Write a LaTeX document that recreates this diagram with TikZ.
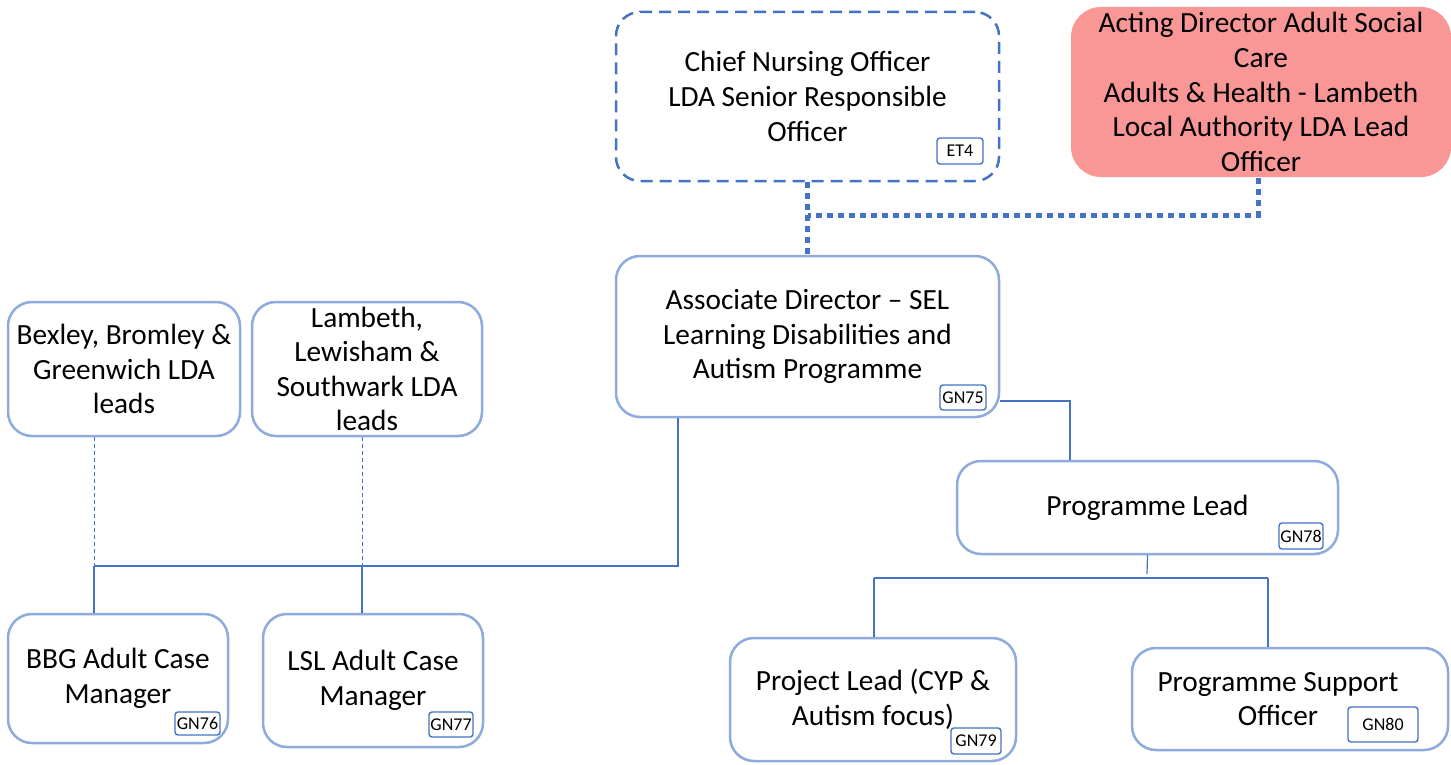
\documentclass[tikz,border=0pt]{standalone}
\usepackage{fontspec}
\setmainfont{Carlito}
\definecolor{boxline}{HTML}{8FAADC}
\definecolor{conn}{HTML}{4472C4}
\definecolor{pinkfill}{HTML}{F99797}
\begin{document}
\begin{tikzpicture}[x=1pt,y=-1pt,
  box/.style={draw=boxline, line width=2.5pt, rounded corners=24pt, align=center, inner sep=0pt,
    font=\fontsize{29.3}{34.6}\selectfont},
  tag/.style={draw=conn, line width=1.4pt, rounded corners=3pt, inner sep=0pt, font=\fontsize{18}{20}\selectfont},
  link/.style={draw=conn, line width=1.2pt},
  thickdot/.style={draw=conn, line width=5pt, dash pattern=on 6pt off 5pt}
]
\useasboundingbox (0,0) rectangle (1451,765);

% nodes
\node[box, draw=conn, dash pattern=on 12pt off 7pt, minimum width=383pt, minimum height=169pt] (cno) at (807.5,96.5)
  {Chief Nursing Officer\\LDA Senior Responsible\\Officer};
\node[tag, minimum width=46pt, minimum height=26pt] (et4) at (960,151) {ET4};

\node[box, draw=none, fill=pinkfill, rounded corners=30pt, minimum width=380pt, minimum height=170pt] (ada) at (1261,92)
  {Acting Director Adult Social\\Care\\Adults \& Health - Lambeth\\Local Authority LDA Lead\\Officer};

\node[box, minimum width=383pt, minimum height=161pt] (ad) at (807.5,336.5)
  {Associate Director -- SEL\\Learning Disabilities and\\Autism Programme};
\node[tag, minimum width=46pt, minimum height=25pt] (gn75) at (963,397.5) {GN75};

\node[box, minimum width=232pt, minimum height=134pt] (bex) at (124,369)
  {Bexley, Bromley \&\\Greenwich LDA\\leads};
\node[box, minimum width=230pt, minimum height=134pt] (lam) at (367,369)
  {Lambeth,\\Lewisham \&\\Southwark LDA\\leads};

\node[box, minimum width=220pt, minimum height=129pt] (bbg) at (118,678.5)
  {BBG Adult Case\\Manager};
\node[tag, minimum width=45pt, minimum height=23pt] (gn76) at (197.5,723.5) {GN76};
\node[box, minimum width=220pt, minimum height=133pt] (lsl) at (373,680.5)
  {LSL Adult Case\\Manager};
\node[tag, minimum width=44pt, minimum height=25pt] (gn77) at (451,724.5) {GN77};

\node[box, minimum width=381pt, minimum height=93pt] (pl) at (1147.5,507.5)
  {Programme Lead};
\node[tag, minimum width=44pt, minimum height=26pt] (gn78) at (1301,536) {GN78};

\node[box, minimum width=286pt, minimum height=123pt] (prj) at (873,699.5)
  {Project Lead (CYP \&\\Autism focus)};
\node[tag, minimum width=50pt, minimum height=26pt] (gn79) at (976,741) {GN79};

\node[box, minimum width=316pt, minimum height=102pt] (sup) at (1290,699)
  {\hspace*{-24pt}Programme Support\\\hspace*{-24pt}Officer};
\node[tag, minimum width=70pt, minimum height=35pt] (gn80) at (1383,724.5) {GN80};

% connectors
\coordinate (j1) at (808,215);
\draw[thickdot] (cno.south) -- (ad.north);
\draw[thickdot] ([xshift=-3pt]ada.south) |- (j1);

\draw[link] ([yshift=-64.5pt]ad.east) -| ([xshift=-77.5pt]pl.north);

\coordinate (b1) at (94,566);
\coordinate (b2) at (362,566);
\draw[link] ([xshift=-129.5pt]ad.south) |- (b1);
\draw[draw=conn, line width=0.8pt, dash pattern=on 4pt off 3pt] (b1 |- bex.south) -- (b1);
\draw[draw=conn, line width=0.8pt, dash pattern=on 4pt off 3pt] (b2 |- lam.south) -- (b2);
\draw[link] (b1) -- (b1 |- bbg.north);
\draw[link] (b2) -- (b2 |- lsl.north);

\coordinate (r1) at (1147,578);
\coordinate (r2) at (874,578);
\coordinate (r3) at (1268,578);
\draw[link] (pl.south) -- ([yshift=4pt]r1);
\draw[link] (r2) -- (r3);
\draw[link] (r2) -- (r2 |- prj.north);
\draw[link] (r3) -- (r3 |- sup.north);
\end{tikzpicture}
\end{document}
